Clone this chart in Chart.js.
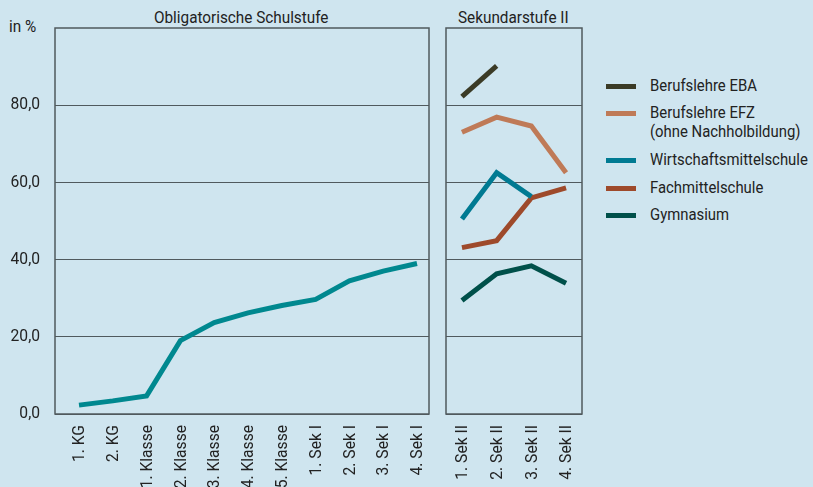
<!DOCTYPE html>
<html>
<head>
<meta charset="utf-8">
<script src="https://cdn.jsdelivr.net/npm/chart.js@4"></script>
<style>
  html, body { margin: 0; padding: 0; }
  body { width: 813px; height: 487px; background: #cfe5ef; position: relative; overflow: hidden;
         font-family: Roboto, sans-serif; color: #222; }
  .txt { position: absolute; font-size: 17px; line-height: 20px; white-space: nowrap;
         transform: scaleX(0.9); transform-origin: 0 0; }
  #leftWrap { position: absolute; left: 0; top: 0; width: 440px; height: 487px; }
  #rightWrap { position: absolute; left: 436px; top: 0; width: 156px; height: 487px; }
  #legend { position: absolute; left: 606px; top: 77px; }
  .lg-row { position: relative; height: 27.3px; }
  .lg-line { position: absolute; left: 0; top: 7px; width: 30px; height: 5px; }
  .lg-text { position: absolute; left: 44px; top: -1px; font-size: 17px; line-height: 18.7px; white-space: nowrap;
             transform: scaleX(0.875); transform-origin: 0 0; }
</style>
</head>
<body>
<div class="txt" style="left:9px;top:16px;">in %</div>
<div class="txt" style="left:154px;top:7px;">Obligatorische Schulstufe</div>
<div class="txt" style="left:458px;top:7px;">Sekundarstufe II</div>
<div id="leftWrap"><canvas id="leftChart"></canvas></div>
<div id="rightWrap"><canvas id="rightChart"></canvas></div>
<div id="legend"></div>

<script>
// --- Data ---
const obligLabels = ['1. KG', '2. KG', '1. Klasse', '2. Klasse', '3. Klasse', '4. Klasse', '5. Klasse', '1. Sek I', '2. Sek I', '3. Sek I', '4. Sek I'];
const obligValues = [2.3, 3.4, 4.7, 19.0, 23.7, 26.2, 28.1, 29.7, 34.5, 37.0, 39.0];

const sek2Labels = ['1. Sek II', '2. Sek II', '3. Sek II', '4. Sek II'];
const seriesNames = ['Berufslehre EBA', 'Berufslehre EFZ\n(ohne Nachholbildung)', 'Wirtschaftsmittelschule', 'Fachmittelschule', 'Gymnasium'];
const ebaValues = [82.2, 90.2, null, null];
const efzValues = [73.0, 76.9, 74.6, 62.5];
const wmsValues = [50.5, 62.5, 56.3, null];
const fmsValues = [43.1, 44.9, 56.0, 58.6];
const gymValues = [29.4, 36.3, 38.4, 33.9];
const seriesColors = ['#3b3b26', '#bf7a57', '#007a92', '#9e4a2b', '#00504a'];

const yTicks = [0, 20, 40, 60, 80];

const FONT = '17px Roboto, sans-serif';
const SQUEEZE = 0.92;
const GRID = '#505a5e';

// --- Plot frame + condensed tick labels ---
const framePlugin = {
    id: 'frame',
    afterDraw(chart) {
        const { ctx, chartArea: a } = chart;
        ctx.save();
        ctx.strokeStyle = GRID;
        ctx.lineWidth = 1.5;
        ctx.strokeRect(a.left, a.top, a.right - a.left, a.bottom - a.top);

        ctx.fillStyle = '#222';
        ctx.font = FONT;
        ctx.textAlign = 'right';
        ctx.textBaseline = 'middle';

        const xs = chart.scales.x;
        const labels = chart.options.plugins.frame.labels;
        labels.forEach((lab, i) => {
            ctx.save();
            ctx.translate(xs.getPixelForValue(i) + 1, xs.top + 11);
            ctx.rotate(-Math.PI / 2);
            ctx.scale(SQUEEZE, 1);
            ctx.fillText(lab, 0, 0);
            ctx.restore();
        });

        if (chart.options.plugins.frame.yLabels) {
            const ys = chart.scales.y;
            yTicks.forEach(v => {
                ctx.save();
                ctx.translate(a.left - 15, ys.getPixelForValue(v));
                ctx.scale(SQUEEZE, 1);
                ctx.fillText(v.toFixed(1).replace('.', ','), 0, 0);
                ctx.restore();
            });
        }
        ctx.restore();
    }
};

function yScale(width) {
    return {
        min: 0, max: 100,
        afterBuildTicks: s => { s.ticks = yTicks.map(v => ({ value: v })); },
        afterFit: s => { s.width = width; },
        border: { display: false },
        grid: { color: GRID, lineWidth: 1, drawTicks: false },
        ticks: { display: false }
    };
}

function xScale(labels, min, max) {
    return {
        type: 'linear',
        min: min, max: max,
        afterBuildTicks: s => { s.ticks = labels.map((_, i) => ({ value: i })); },
        afterFit: s => { s.height = 73; },
        border: { display: false },
        grid: { display: false, drawTicks: false },
        ticks: { display: false }
    };
}

function toXY(values) {
    return values.map((v, i) => ({ x: i, y: v }));
}

function makeOptions(labels, xmin, xmax, yWidth, rightPad, yLabels) {
    return {
        responsive: true,
        maintainAspectRatio: false,
        animation: false,
        layout: { padding: { top: 28, right: rightPad, left: 0, bottom: 0 } },
        plugins: {
            legend: { display: false },
            tooltip: { enabled: false },
            frame: { labels: labels, yLabels: yLabels }
        },
        elements: { point: { radius: 0 }, line: { borderWidth: 5, tension: 0, borderJoinStyle: 'miter' } },
        scales: { x: xScale(labels, xmin, xmax), y: yScale(yWidth) }
    };
}

// --- Left chart ---
new Chart(document.getElementById('leftChart'), {
    type: 'line',
    data: { datasets: [{ data: toXY(obligValues), borderColor: '#00888f' }] },
    options: makeOptions(obligLabels, -0.71, 10.355, 55, 11, true),
    plugins: [framePlugin]
});

// --- Right chart ---
const sek2Series = [ebaValues, efzValues, wmsValues, fmsValues, gymValues];
new Chart(document.getElementById('rightChart'), {
    type: 'line',
    data: {
        datasets: sek2Series.map((vals, i) => ({
            data: toXY(vals),
            borderColor: seriesColors[i],
            spanGaps: false
        }))
    },
    options: makeOptions(sek2Labels, -0.46, 3.46, 10, 10, false),
    plugins: [framePlugin]
});

// --- Legend ---
const legendEl = document.getElementById('legend');
seriesNames.forEach((name, i) => {
    const row = document.createElement('div');
    row.className = 'lg-row';
    const lines = name.split('\n');
    if (lines.length > 1) row.style.height = '47px';
    row.innerHTML = `<div class="lg-line" style="background:${seriesColors[i]}"></div>` +
        `<div class="lg-text">${lines.join('<br>')}</div>`;
    legendEl.appendChild(row);
});
</script>
</body>
</html>
